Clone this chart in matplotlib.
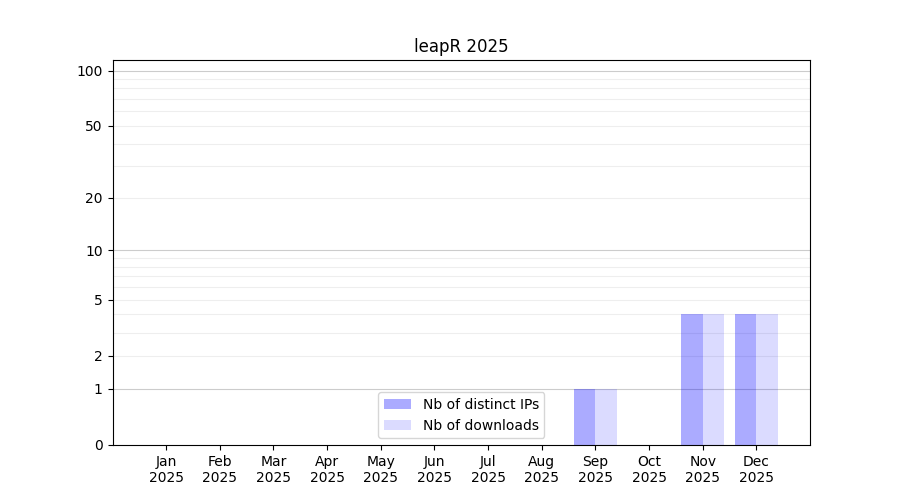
import numpy as np
import matplotlib
matplotlib.use("Agg")
import matplotlib.pyplot as plt

months = ["Jan", "Feb", "Mar", "Apr", "May", "Jun", "Jul", "Aug", "Sep", "Oct", "Nov", "Dec"]
year = "2025"
distinct_ips = [0, 0, 0, 0, 0, 0, 0, 0, 1, 0, 4, 4]
downloads = [0, 0, 0, 0, 0, 0, 0, 0, 1, 0, 4, 4]
major_ticks = [0, 1, 2, 5, 10, 20, 50, 100]
grid_major = [1, 10, 100]
grid_minor = [2, 3, 4, 5, 6, 7, 8, 9, 20, 30, 40, 50, 60, 70, 80, 90]

fig, ax = plt.subplots(figsize=(9, 5), dpi=100)
x = np.arange(len(months))

ax.set_yscale("function", functions=(lambda v: np.log10(1 + np.asarray(v)),
                                     lambda v: 10 ** np.asarray(v) - 1))

for g in grid_minor:
    ax.axhline(g, color="#eeeeee", lw=0.8, zorder=0)
for g in grid_major:
    ax.axhline(g, color="#cccccc", lw=0.8, zorder=0)

ax.bar(x, distinct_ips, width=-0.4, align="edge", color="blue", alpha=0.33,
       label="Nb of distinct IPs", zorder=2)
ax.bar(x, downloads, width=0.4, align="edge", color="blue", alpha=0.14,
       label="Nb of downloads", zorder=2)

ax.set_xlim(-1, 12)
ax.set_ylim(0, 114)
ax.set_yticks(major_ticks)
ax.set_yticklabels([str(t) for t in major_ticks])
ax.yaxis.set_minor_locator(matplotlib.ticker.NullLocator())
ax.set_xticks(x)
ax.set_xticklabels([f"{m}\n{year}" for m in months])
ax.set_title("leapR 2025")
ax.legend(loc="lower center")

fig.savefig("out.png")
